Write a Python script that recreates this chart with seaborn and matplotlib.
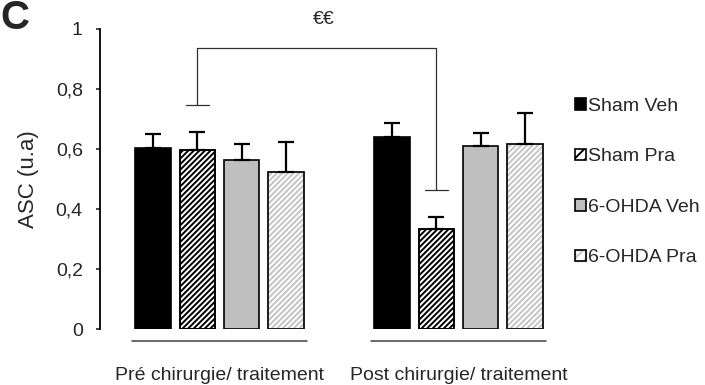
import matplotlib
matplotlib.use("Agg")
import matplotlib.pyplot as plt
from matplotlib.patches import Rectangle, Patch
import pandas as pd
import seaborn as sns

# ---- data ----
periods = ["Pré chirurgie/ traitement", "Post chirurgie/ traitement"]
groups = ["Sham Veh", "Sham Pra", "6-OHDA Veh", "6-OHDA Pra"]
pre_values = [0.603, 0.597, 0.563, 0.523]
post_values = [0.640, 0.333, 0.610, 0.617]
pre_sem = [0.047, 0.060, 0.054, 0.100]
post_sem = [0.047, 0.040, 0.043, 0.103]
yticks = [0, 0.2, 0.4, 0.6, 0.8, 1.0]
ytick_labels = ["0", "0,2", "0,4", "0,6", "0,8", "1"]
ylabel = "ASC (u.a)"
panel_label = "C"
sig_label = "€€"
sig_left_y, sig_top_y, sig_right_y = 0.747, 0.937, 0.463

# ---- styles ----
face = {"Sham Veh": "black", "Sham Pra": "white", "6-OHDA Veh": "#bfbfbf", "6-OHDA Pra": "white"}
hatches = {"Sham Veh": None, "Sham Pra": "//////", "6-OHDA Veh": None, "6-OHDA Pra": "//////"}
hatch_col = {"Sham Veh": "black", "Sham Pra": "black", "6-OHDA Veh": "black", "6-OHDA Pra": "#c4c4c4"}

sns.set_style("ticks")
plt.rcParams["font.family"] = ["Liberation Sans", "DejaVu Sans"]
plt.rcParams["font.size"] = 14
plt.rcParams["hatch.linewidth"] = 1.4

rows = []
for g, v in zip(groups, pre_values):
    rows.append({"period": periods[0], "group": g, "value": v})
for g, v in zip(groups, post_values):
    rows.append({"period": periods[1], "group": g, "value": v})
df = pd.DataFrame(rows)
errs = {g: [a, b] for g, a, b in zip(groups, pre_sem, post_sem)}

fig = plt.figure(figsize=(7.05, 3.85), dpi=100)
ax = fig.add_axes([100 / 705, 1 - 329 / 385, 478 / 705, 300 / 385])

sns.barplot(data=df, x="period", y="value", hue="group", order=periods,
            hue_order=groups, palette=face, width=0.74, gap=0.2,
            edgecolor="black", linewidth=1.2, errorbar=None, legend=False,
            saturation=1, ax=ax)

centers = {}
for g, cont in zip(groups, ax.containers):
    centers[g] = []
    for j, bar in enumerate(cont):
        cx = bar.get_x() + bar.get_width() / 2
        centers[g].append(cx)
        if hatches[g]:
            bar.set_hatch(hatches[g])
            bar.set_edgecolor(hatch_col[g])
            ax.add_patch(Rectangle(bar.get_xy(), bar.get_width(), bar.get_height(),
                                   fill=False, edgecolor="black", lw=1.2,
                                   zorder=bar.get_zorder() + 0.1))
        ax.errorbar(cx, bar.get_height(), yerr=[[0], [errs[g][j]]], fmt="none",
                    ecolor="black", elinewidth=1.6, capsize=5.8, capthick=1.6,
                    zorder=1)

ax.set_ylim(0, 1)
ax.set_xlim(-0.5, 1.5)
ax.set_yticks(yticks)
ax.set_yticklabels(ytick_labels)
ax.set_ylabel(ylabel, labelpad=12, fontsize=16)
ax.set_xlabel("")
ax.tick_params(axis="y", length=3, width=1.2, pad=9.4, direction="out")
ax.tick_params(axis="x", length=0, pad=27)
for s in ["top", "right", "bottom"]:
    ax.spines[s].set_visible(False)
ax.spines["left"].set_linewidth(1.3)
ax.spines["left"].set_color("black")

# group baselines
for j in range(len(periods)):
    ax.plot([j - 0.365, j + 0.365], [-0.04, -0.04], color="#404040", lw=1.1,
            clip_on=False)

# significance bracket
xl = centers["Sham Pra"][0]
xr = centers["Sham Pra"][1]
ax.plot([xl, xl, xr, xr], [sig_left_y, sig_top_y, sig_top_y, sig_right_y],
        color="#303030", lw=0.9, clip_on=False)
for x, y in [(xl, sig_left_y), (xr, sig_right_y)]:
    ax.plot([x - 0.048, x + 0.048], [y, y], color="#303030", lw=0.9, clip_on=False)
ax.text((xl + xr) / 2 + 0.03, 1.03, sig_label, ha="center", va="center",
        fontsize=14, clip_on=False)

# legend
handles = []
for g in groups:
    if hatches[g] and hatch_col[g] != "black":
        h = (Patch(facecolor=face[g], edgecolor=hatch_col[g], hatch="///"),
             Patch(facecolor="none", edgecolor="black", lw=1.2))
    else:
        h = Patch(facecolor=face[g], edgecolor="black",
                  hatch="///" if hatches[g] else None, lw=1.2)
    handles.append(h)
fig.legend(handles, groups, loc="upper left",
           bbox_to_anchor=(575 / 705, 1 - 98 / 385), frameon=False,
           handlelength=0.55, handleheight=0.55, handletextpad=0.1,
           labelspacing=1.72, borderpad=0, borderaxespad=0, fontsize=14)

fig.text(0.0, 1 - 29 / 385, panel_label, fontsize=29, fontweight="bold",
         ha="left", va="baseline")

fig.savefig("out.png", dpi=100)
